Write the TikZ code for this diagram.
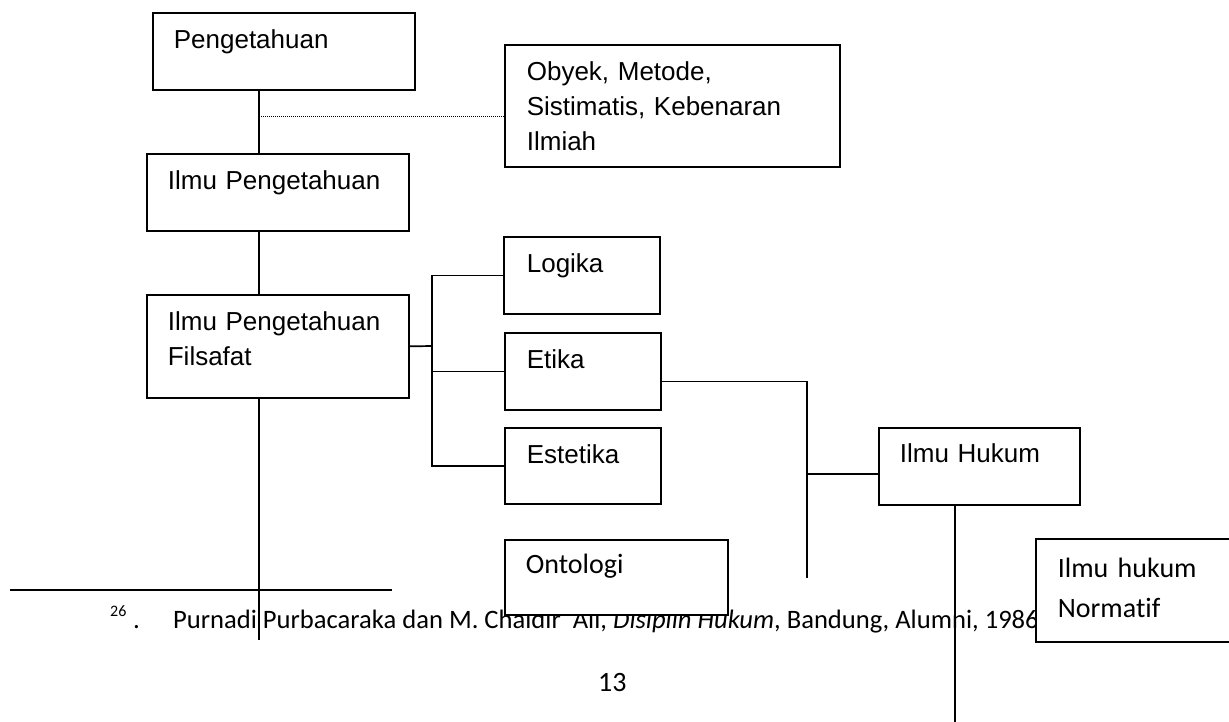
\documentclass[tikz,border=0pt]{standalone}
\usepackage{fontspec}
\setmainfont{Liberation Sans}
\newfontfamily\calibri[Ligatures=NoCommon]{Carlito}
\usepackage{tikz}
\pgfdeclarelayer{background}
\pgfdeclarelayer{foreground}
\pgfsetlayers{background,main,foreground}
\tikzset{
  kotak/.style={draw, fill=white, line width=1.7pt, anchor=north west, align=left,
    inner xsep=21pt, inner ysep=0pt, text height=36pt, font=\fontsize{26}{35}\selectfont},
  kotakc/.style={kotak, font=\calibri\fontsize{28}{40}\selectfont},
  garis/.style={line width=1.7pt},
  garistitik/.style={line width=1pt, densely dotted},
  teks/.style={inner sep=0pt, anchor=base west}
}

\begin{document}
\begin{tikzpicture}[x=1pt,y=-1pt]
\useasboundingbox (0,0) rectangle (1229,722);
\begin{pgfonlayer}{background}
\fill[white] (0,0) rectangle (1229,722);
\draw[garis] (10,590) -- (392,590);
\node[teks, font=\calibri\fontsize{16}{16}\selectfont] (nomor) at (110,616) {26};
\node[teks, font=\calibri\fontsize{27}{30}\selectfont] (titikcat) at (133,628) {.};
\node[teks, font=\calibri\fontsize{26.6}{30}\selectfont] (catatan) at (173,628)
  {Purnadi Purbacaraka dan M. Chaidir\ \ Ali, \textit{Disiplin Hukum}, Bandung, Alumni, 1986};
\node[teks, font=\calibri\fontsize{28}{30}\selectfont] (halaman) at (598,691) {13};
\end{pgfonlayer}

\node[kotak, text width=220pt, text depth=41pt] (peng) at (152,12) {Pengetahuan};
\node[kotak, inner xsep=22pt, text width=291pt, text depth=86pt] (obyek) at (504,44)
  {Obyek, Metode,\\Sistimatis, Kebenaran\\Ilmiah};
\node[kotak, text width=220pt, text depth=41pt] (ilmu) at (146,153) {Ilmu Pengetahuan};
\node[kotak, text width=220pt, text depth=67pt] (filsafat) at (146,294) {Ilmu Pengetahuan\\Filsafat};
\node[kotak, inner xsep=23pt, text width=110pt, text depth=41pt] (logika) at (503,236) {Logika};
\node[kotak, inner xsep=22pt, text width=112pt, text depth=41pt] (etika) at (504,332) {Etika};
\node[kotak, inner xsep=22pt, text width=112pt, text depth=40pt] (estetika) at (504,427) {Estetika};
\node[kotakc, text width=181pt, text height=34pt, text depth=41pt] (ontologi) at (504,539) {Ontologi};
\node[kotak, text width=159pt, text height=35pt, text depth=42pt] (hukum) at (878,427) {Ilmu Hukum};
\node[kotakc, inner xsep=22pt, text width=160pt, text height=39pt, text depth=64pt] (normatif) at (1035,538)
  {Ilmu hukum\\Normatif};

\coordinate (batang) at (259,0);
\coordinate (titik) at (259,117);
\coordinate (ujung1) at (259,640);
\coordinate (cabang) at (432,346);
\coordinate (simpang) at (807,474);
\coordinate (ujung2) at (807,578);
\coordinate (ujung3) at (955,722);

\draw[garis] (peng.south -| batang) -- (ilmu.north -| batang);
\draw[garistitik] (titik) -- (titik -| obyek.west);
\draw[garis] (ilmu.south -| batang) -- (filsafat.north -| batang);
\draw[garis] (filsafat.south -| batang) -- (ujung1);
\draw[garis] (filsafat.east) -- (cabang);
\draw[garis] (logika.west) -| (cabang) |- (estetika.west);
\draw[garis] (cabang |- etika.west) -- (etika.west);
\draw[garis] ([yshift=-10pt]etika.east) -| (ujung2);
\draw[garis] (simpang) -- (simpang -| hukum.west);
\draw[garis] (hukum.south -| ujung3) -- (ujung3);
\end{tikzpicture}
\end{document}
